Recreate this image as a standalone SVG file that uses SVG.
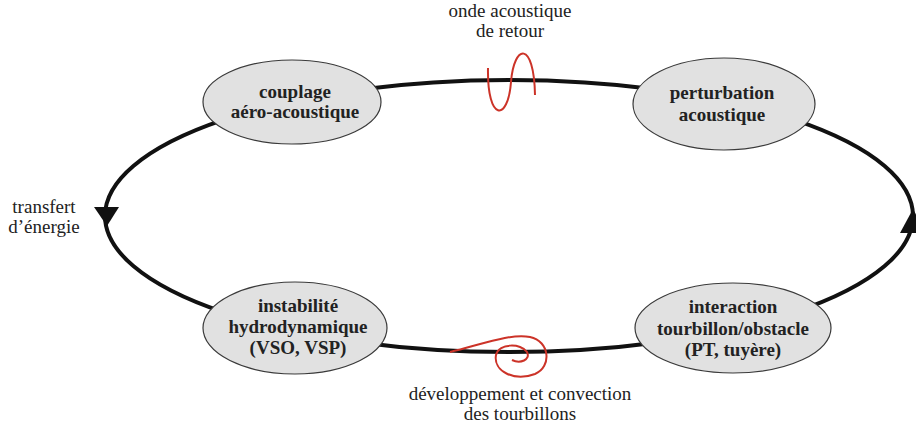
<svg xmlns="http://www.w3.org/2000/svg" width="916" height="431" viewBox="0 0 916 431">
<style>
.node ellipse{fill:#e1e1e1;stroke:#3a3a3a;stroke-width:1.2}
.nt{font-family:"Liberation Serif",serif;font-weight:bold;font-size:19px;fill:#222;text-anchor:middle}
.lb{font-family:"Liberation Serif",serif;font-size:19px;fill:#222;text-anchor:middle}
.loop{fill:none;stroke:#111;stroke-width:4}
.wave{fill:none;stroke:#cc3328;stroke-width:2}
</style>
<rect width="916" height="431" fill="#fff"/>
<g id="connectors">
<ellipse class="loop" cx="509" cy="216" rx="404" ry="136"/>
<polygon points="94,207 119,207 107,226" fill="#111"/>
<polygon points="900,233 926,233 913,209" fill="#111"/>
<path class="wave" d="M488,68 C487,122 508,122 511,82 C514,44 534,40 535,95"/>
<path class="wave" d="M450,352 C480,345 510,333 530,337 C550,341 552,367 535,374 C514,382 493,371 496,355 C499,343 521,343 527,352 C531,360 520,364 512,360"/>
</g>
<g id="node-couplage" class="node">
<ellipse cx="292" cy="102" rx="89" ry="42"/>
<text class="nt" x="295" y="98">couplage</text>
<text class="nt" x="295" y="118">aéro-acoustique</text>
</g>
<g id="node-perturbation" class="node">
<ellipse cx="724" cy="104" rx="91" ry="46"/>
<text class="nt" x="722" y="99">perturbation</text>
<text class="nt" x="722" y="121">acoustique</text>
</g>
<g id="node-instabilite" class="node">
<ellipse cx="295" cy="328" rx="92" ry="46"/>
<text class="nt" x="298" y="312">instabilité</text>
<text class="nt" x="298" y="333">hydrodynamique</text>
<text class="nt" x="298" y="354">(VSO, VSP)</text>
</g>
<g id="node-interaction" class="node">
<ellipse cx="733" cy="328" rx="98" ry="45"/>
<text class="nt" x="733" y="313">interaction</text>
<text class="nt" x="733" y="335">tourbillon/obstacle</text>
<text class="nt" x="733" y="356">(PT, tuyère)</text>
</g>
<g id="labels">
<text class="lb" x="510" y="17">onde acoustique</text>
<text class="lb" x="510" y="37">de retour</text>
<text class="lb" x="520" y="400">développement et convection</text>
<text class="lb" x="520" y="420">des tourbillons</text>
<text class="lb" x="44" y="213">transfert</text>
<text class="lb" x="44" y="233">d’énergie</text>
</g>
</svg>
